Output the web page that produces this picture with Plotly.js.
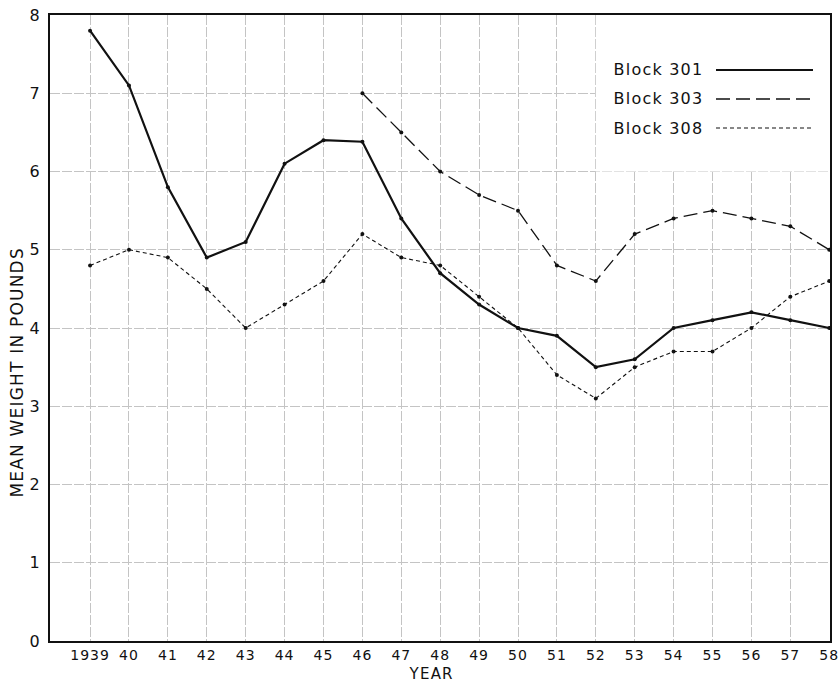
<!DOCTYPE html>
<html>
<head>
<meta charset="utf-8">
<script src="https://cdn.plot.ly/plotly-3.0.1.min.js"></script>
<style>
html,body{margin:0;padding:0;background:#fff;}
#chart{width:838px;height:684px;}
#chart .annotation-text{letter-spacing:1.2px;}
#chart .xtick text{letter-spacing:1px;}
</style>
</head>
<body>
<div id="chart"></div>
<script>
const years = [1939,1940,1941,1942,1943,1944,1945,1946,1947,1948,1949,1950,1951,1952,1953,1954,1955,1956,1957,1958];
const tickLabels = ["1939","40","41","42","43","44","45","46","47","48","49","50","51","52","53","54","55","56","57","58"];
const block301 = [7.8,7.1,5.8,4.9,5.1,6.1,6.4,6.38,5.4,4.7,4.3,4.0,3.9,3.5,3.6,4.0,4.1,4.2,4.1,4.0];
const years303 = [1946,1947,1948,1949,1950,1951,1952,1953,1954,1955,1956,1957,1958];
const block303 = [7.0,6.5,6.0,5.7,5.5,4.8,4.6,5.2,5.4,5.5,5.4,5.3,5.0];
const block308 = [4.8,5.0,4.9,4.5,4.0,4.3,4.6,5.2,4.9,4.8,4.4,4.0,3.4,3.1,3.5,3.7,3.7,4.0,4.4,4.6];
const seriesNames = ["Block 301","Block 303","Block 308"];
const xTitle = "YEAR";
const yTitle = "MEAN WEIGHT IN POUNDS";

const fontFam = "DejaVu Sans, Liberation Sans, sans-serif";
const traces = [
  {x: years, y: block301, name: seriesNames[0], mode: "lines+markers",
   line: {color: "#111", width: 2.2}, marker: {color: "#111", size: 4}},
  {x: years303, y: block303, name: seriesNames[1], mode: "lines+markers",
   line: {color: "#111", width: 1.3, dash: "14px,6px"}, marker: {color: "#111", size: 4}},
  {x: years, y: block308, name: seriesNames[2], mode: "lines+markers",
   line: {color: "#111", width: 1.1, dash: "4px,3px"}, marker: {color: "#111", size: 4}}
];

const legendRowsPx = [70, 99, 128];
const legendDash = ["solid", "14px,6px", "4px,3px"];
const legendW = [2.2, 1.3, 1.1];
const figH = 684, mTop = 15, mBottom = 43, mLeft = 50, mRight = 8;
const plotH = figH - mTop - mBottom, plotW = 838 - mLeft - mRight;
function paperY(pix){ return 1 - (pix - mTop)/plotH; }
function paperX(pix){ return (pix - mLeft)/plotW; }
const annotations = [], shapes = [];
shapes.push({type: "rect", xref: "x", yref: "y", x0: 1952, x1: 1958, y0: 6, y1: 8,
  fillcolor: "#fff", line: {width: 0}, layer: "between"});
seriesNames.forEach((n, i) => {
  annotations.push({xref: "paper", yref: "paper", x: paperX(617), y: paperY(legendRowsPx[i]),
    xanchor: "left", yanchor: "middle", text: n, showarrow: false,
    font: {family: fontFam, size: 16, color: "#111"}});
  shapes.push({type: "line", xref: "paper", yref: "paper", x0: paperX(716), x1: paperX(813),
    y0: paperY(legendRowsPx[i]), y1: paperY(legendRowsPx[i]), line: {color: "#111", width: legendW[i], dash: legendDash[i]}});
});
// axis titles placed as in the reference
annotations.push({xref: "paper", yref: "paper", x: paperX(431), y: paperY(674),
  xanchor: "center", yanchor: "middle", text: xTitle, showarrow: false,
  font: {family: fontFam, size: 15, color: "#111"}});
annotations.push({xref: "paper", yref: "paper", x: paperX(17), y: paperY(373),
  xanchor: "center", yanchor: "middle", text: yTitle, showarrow: false, textangle: -90,
  font: {family: fontFam, size: 17, color: "#111"}});

const layout = {
  width: 838, height: 684,
  margin: {l: mLeft, r: mRight, t: mTop, b: mBottom},
  paper_bgcolor: "#fff", plot_bgcolor: "#fff",
  showlegend: false,
  font: {family: fontFam, color: "#111"},
  xaxis: {
    range: [1937.97, 1958.02], tickvals: years, ticktext: tickLabels,
    showgrid: true, gridcolor: "#c4c4c4", gridwidth: 1, griddash: "10px,2px",
    showline: true, linecolor: "#111", linewidth: 2, mirror: true,
    ticks: "", zeroline: false, tickfont: {size: 14, family: fontFam},
    ticklabelstandoff: 0, ticklabeloverflow: "allow"
  },
  yaxis: {
    range: [0, 8], tickvals: [0,1,2,3,4,5,6,7,8],
    showgrid: true, gridcolor: "#c4c4c4", gridwidth: 1, griddash: "10px,2px",
    showline: true, linecolor: "#111", linewidth: 2, mirror: true,
    ticks: "", zeroline: false, tickfont: {size: 16, family: fontFam},
    ticklabelstandoff: 5, ticklabeloverflow: "allow"
  },
  annotations: annotations,
  shapes: shapes
};
Plotly.newPlot("chart", traces, layout, {displayModeBar: false, staticPlot: true});
</script>
</body>
</html>
